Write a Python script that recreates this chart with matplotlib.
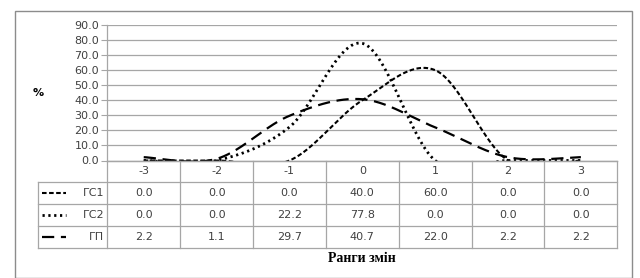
import numpy as np
import matplotlib
matplotlib.use("Agg")
import matplotlib.pyplot as plt
import matplotlib.transforms as mtransforms
from matplotlib.patches import Rectangle
from matplotlib.lines import Line2D

categories = ["-3", "-2", "-1", "0", "1", "2", "3"]
gs1 = [0.0, 0.0, 0.0, 40.0, 60.0, 0.0, 0.0]
gs2 = [0.0, 0.0, 22.2, 77.8, 0.0, 0.0, 0.0]
gp = [2.2, 1.1, 29.7, 40.7, 22.0, 2.2, 2.2]
series_names = ["ГС1", "ГС2", "ГП"]
y_ticks = [0, 10, 20, 30, 40, 50, 60, 70, 80, 90]
x_title = "Ранги змін"
y_title = "%"

W, H = 640, 278
fig = plt.figure(figsize=(W / 100, H / 100), dpi=100)
fig.patch.set_facecolor("white")

# outer frame
fig.add_artist(Rectangle((14.5 / W, 0.0), (632 - 14.5) / W, (H - 10.5) / H,
                         transform=fig.transFigure, fill=False,
                         edgecolor="#8c8c8c", lw=1.0))

ax_l, ax_r, ax_top, ax_bot = 107.3, 617.3, 25.0, 160.5
ax = fig.add_axes([ax_l / W, (H - ax_bot) / H, (ax_r - ax_l) / W, (ax_bot - ax_top) / H])

x = np.arange(len(categories))
ax.set_xlim(-0.5, len(categories) - 0.5)
ax.set_ylim(0, 90)

grid_c = "#a6a6a6"
txt_c = "#404040"
ax.set_yticks(y_ticks)
ax.set_yticklabels([f"{v:.1f}" for v in y_ticks], fontsize=8, color=txt_c)
ax.tick_params(axis="y", length=4, color=grid_c, pad=2)
ax.set_xticks([])
ax.grid(axis="y", color=grid_c, lw=0.9)
ax.set_axisbelow(True)
for s in ["top", "right"]:
    ax.spines[s].set_visible(False)
for s in ["left", "bottom"]:
    ax.spines[s].set_color(grid_c)
    ax.spines[s].set_linewidth(0.9)


def excel_smooth(xs, ys, n=60):
    xs = np.asarray(xs, float)
    ys = np.asarray(ys, float)
    px, py = [], []
    m = len(xs)
    for i in range(m - 1):
        x0, y0 = xs[max(i - 1, 0)], ys[max(i - 1, 0)]
        x1, y1 = xs[i], ys[i]
        x2, y2 = xs[i + 1], ys[i + 1]
        x3, y3 = xs[min(i + 2, m - 1)], ys[min(i + 2, m - 1)]
        c1x, c1y = x1 + (x2 - x0) / 6, y1 + (y2 - y0) / 6
        c2x, c2y = x2 - (x3 - x1) / 6, y2 - (y3 - y1) / 6
        t = np.linspace(0, 1, n)
        bx = (1 - t) ** 3 * x1 + 3 * (1 - t) ** 2 * t * c1x + 3 * (1 - t) * t ** 2 * c2x + t ** 3 * x2
        by = (1 - t) ** 3 * y1 + 3 * (1 - t) ** 2 * t * c1y + 3 * (1 - t) * t ** 2 * c2y + t ** 3 * y2
        px.extend(bx)
        py.extend(by)
    return np.array(px), np.array(py)


styles = [
    dict(ls=(0, (2.2, 1.2)), lw=1.5),
    dict(ls=(0, (0.8, 1.3)), lw=2.0),
    dict(ls=(0, (5.5, 3.0)), lw=1.6),
]
datas = [gs1, gs2, gp]
for d, st in zip(datas, styles):
    sx, sy = excel_smooth(x, d)
    ax.plot(sx, sy, color="black", ls=st["ls"], lw=st["lw"], solid_capstyle="butt",
            dash_capstyle="butt")

# data table
tr = mtransforms.blended_transform_factory(ax.transData, ax.transAxes)
ph = ax_bot - ax_top
def yfrac(ypix):
    return (ax_bot - ypix) / ph

row_edges = [160.5, 182.3, 204.1, 225.9, 247.7]
tbl_left_pix = 37.5
tbl_left = (tbl_left_pix - ax_l) / (ax_r - ax_l)  # axes fraction
trA = ax.transAxes

# horizontal lines
for i, yp in enumerate(row_edges):
    x0 = 0.0 if i == 0 else tbl_left
    ax.add_line(Line2D([x0, 1.0], [yfrac(yp), yfrac(yp)], transform=trA,
                       color=grid_c, lw=0.9, clip_on=False))
# vertical lines
for k in range(len(categories) + 1):
    xb = k - 0.5
    ax.add_line(Line2D([xb, xb], [yfrac(row_edges[0]), yfrac(row_edges[-1])], transform=tr,
                       color=grid_c, lw=0.9, clip_on=False))
ax.add_line(Line2D([tbl_left, tbl_left], [yfrac(row_edges[1]), yfrac(row_edges[-1])],
                   transform=trA, color=grid_c, lw=0.9, clip_on=False))

# category labels
for xi, c in zip(x, categories):
    ax.text(xi, yfrac((row_edges[0] + row_edges[1]) / 2), c, transform=tr,
            ha="center", va="center", fontsize=8, color=txt_c, clip_on=False)

# values
for r, (d, name, st) in enumerate(zip(datas, series_names, styles)):
    yc = yfrac((row_edges[r + 1] + row_edges[r + 2]) / 2)
    for xi, v in zip(x, d):
        ax.text(xi, yc, f"{v:.1f}", transform=tr, ha="center", va="center",
                fontsize=8, color=txt_c, clip_on=False)
    kx0 = (42 - ax_l) / (ax_r - ax_l)
    kx1 = (66 - ax_l) / (ax_r - ax_l)
    ax.add_line(Line2D([kx0, kx1], [yc, yc], transform=trA, color="black",
                       ls=st["ls"], lw=st["lw"], clip_on=False))
    ax.text((104 - ax_l) / (ax_r - ax_l), yc, name, transform=trA, ha="right",
            va="center", fontsize=8, color=txt_c, clip_on=False)

# titles
fig.text(362 / W, (H - 258) / H, x_title, ha="center", va="center",
         fontsize=10, fontweight="bold", family="Liberation Serif", color="black")
fig.text(38 / W, (H - 93) / H, y_title, ha="center", va="center",
         fontsize=8, fontweight="bold", color="black")

fig.savefig("out.png", dpi=100, facecolor="white")
